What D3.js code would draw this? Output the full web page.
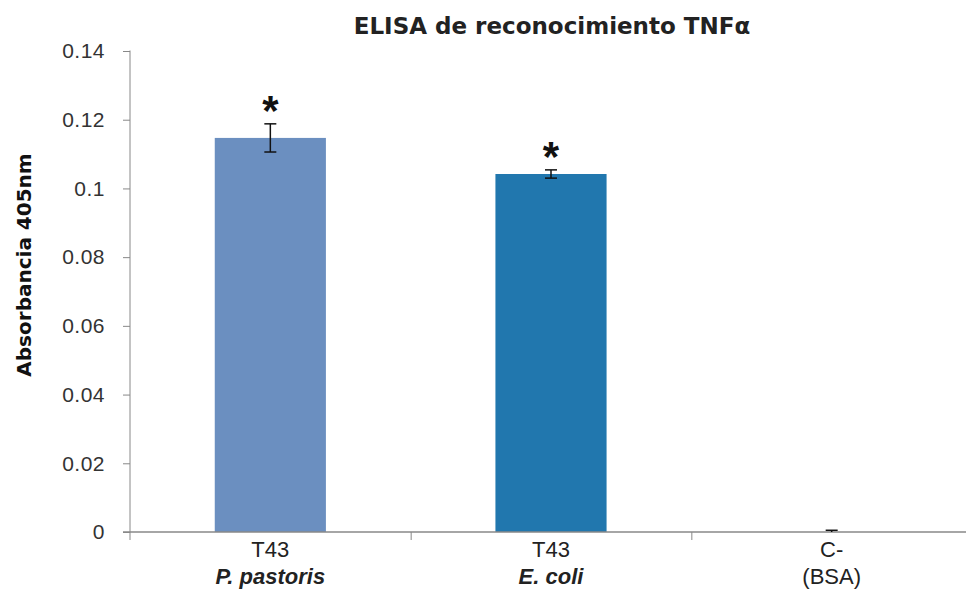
<!DOCTYPE html>
<html>
<head>
<meta charset="utf-8">
<script src="https://cdn.jsdelivr.net/npm/d3@7"></script>
<style>
  body { margin: 0; background: #fff; }
  svg { display: block; font-family: "Liberation Sans", Arial, sans-serif; }
</style>
</head>
<body>
<svg width="966" height="594"></svg>
<script>
// data
var line1 = ["T43", "T43", "C-"];
var line2 = ["P. pastoris", "E. coli", "(BSA)"];
var italic2 = [true, true, false];
var values = [0.1147, 0.1042, 0];
var errors = [0.0041, 0.0012, 0.0005];
var stars = ["*", "*", ""];
var yTicks = [0, 0.02, 0.04, 0.06, 0.08, 0.1, 0.12, 0.14];
var colors = ["#6b8fc0", "#2177ae", "#2177ae"];

var svg = d3.select("svg");
var mLeft = 130, mTop = 51, mBottom = 532, mRight = 972;

var x = d3.scaleBand()
    .domain(d3.range(values.length))
    .range([mLeft, mRight])
    .paddingInner(0.604)
    .paddingOuter(0.302);

var y = d3.scaleLinear().domain([0, 0.14]).range([mBottom, mTop]);

// title
svg.append("text")
    .attr("x", 552)
    .attr("y", 34)
    .attr("text-anchor", "middle")
    .attr("font-family", "\"DejaVu Sans\", sans-serif")
    .attr("font-size", "23px")
    .attr("font-weight", "bold")
    .attr("fill", "#222")
    .text("ELISA de reconocimiento TNFα");

// y axis label
svg.append("text")
    .attr("transform", "translate(31,265) rotate(-90)")
    .attr("text-anchor", "middle")
    .attr("font-family", "\"DejaVu Sans\", sans-serif")
    .attr("font-size", "20px")
    .attr("font-weight", "bold")
    .attr("fill", "#111")
    .text("Absorbancia 405nm");

// bars
svg.append("g")
    .selectAll("rect")
    .data(values)
    .enter()
    .append("rect")
    .attr("x", function(d, i) { return x(i); })
    .attr("y", function(d) { return y(d); })
    .attr("width", x.bandwidth())
    .attr("height", function(d) { return y(0) - y(d); })
    .attr("fill", function(d, i) { return colors[i]; });

// y axis
var gy = svg.append("g")
    .attr("transform", "translate(" + mLeft + ",0)")
    .call(d3.axisLeft(y).tickValues(yTicks).tickSize(7).tickPadding(18)
        .tickFormat(function(d) { return d === 0 ? "0" : d3.format("~g")(d); }));
gy.select(".domain").attr("stroke", "#888").attr("d", "M0," + (mTop - 0.5) + "V" + (mBottom + 8));
gy.selectAll(".tick line").attr("stroke", "#888");
gy.selectAll(".tick text")
    .attr("font-size", "21px")
    .attr("font-family", "\"Liberation Sans\", Arial, sans-serif")
    .attr("letter-spacing", "0.5px")
    .attr("fill", "#333");

// x axis with separator ticks between categories
var xSep = d3.scaleLinear().domain([0, values.length]).range([mLeft, mLeft + x.step() * values.length]);
var gx = svg.append("g")
    .attr("transform", "translate(0," + mBottom + ")")
    .call(d3.axisBottom(xSep).tickValues(d3.range(1, values.length)).tickSize(8).tickFormat(""));
gx.select(".domain").attr("stroke", "#888").attr("stroke-width", 1.5).attr("d", "M" + (mLeft - 7) + ",0H" + mRight);
gx.selectAll(".tick line").attr("stroke", "#888");

// error bars
var eb = svg.append("g").attr("stroke", "#111").attr("stroke-width", 1.5);
values.forEach(function(v, i) {
    var cx = x(i) + x.bandwidth() / 2;
    eb.append("line").attr("x1", cx).attr("x2", cx)
        .attr("y1", y(v + errors[i])).attr("y2", y(Math.max(0, v - errors[i])));
    eb.append("line").attr("x1", cx - 6).attr("x2", cx + 6)
        .attr("y1", y(v + errors[i])).attr("y2", y(v + errors[i]));
    if (v > 0) {
        eb.append("line").attr("x1", cx - 6).attr("x2", cx + 6)
            .attr("y1", y(v - errors[i])).attr("y2", y(v - errors[i]));
    }
});

// significance stars
svg.append("g")
    .selectAll("text")
    .data(values)
    .enter()
    .append("text")
    .attr("x", function(d, i) { return x(i) + x.bandwidth() / 2; })
    .attr("y", function(d, i) { return y(d + errors[i]) + 1; })
    .attr("text-anchor", "middle")
    .attr("font-size", "42px")
    .attr("font-weight", "bold")
    .attr("fill", "#111")
    .text(function(d, i) { return stars[i]; });

// category labels
var lab = svg.append("g").attr("text-anchor", "middle").attr("fill", "#222").attr("font-size", "22px");
line1.forEach(function(t, i) {
    var cx = x(i) + x.bandwidth() / 2;
    lab.append("text").attr("x", cx).attr("y", 557).text(t);
    lab.append("text").attr("x", cx).attr("y", 584)
        .attr("font-weight", italic2[i] ? "bold" : "normal")
        .attr("font-style", italic2[i] ? "italic" : "normal")
        .text(line2[i]);
});
</script>
</body>
</html>
